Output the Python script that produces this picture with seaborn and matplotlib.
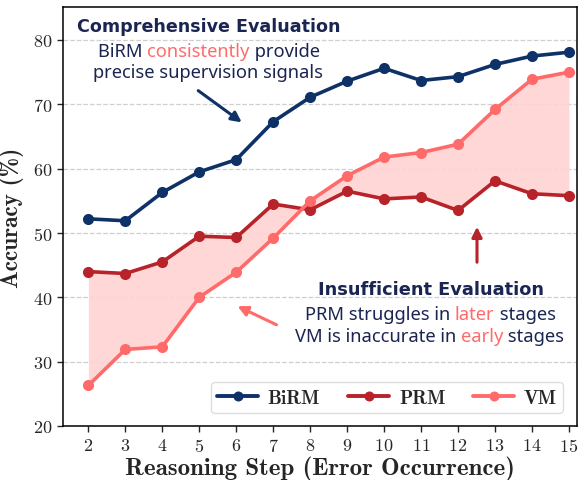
import numpy as np
import pandas as pd
import seaborn as sns
import matplotlib.pyplot as plt

# ── Data ──────────────────────────────────────────────────────
steps = list(range(2, 16))
birm = [52.2, 51.9, 56.3, 59.5, 61.4, 67.3, 71.1, 73.6, 75.6, 73.7, 74.3, 76.2, 77.5, 78.1]
prm = [44.0, 43.7, 45.5, 49.5, 49.3, 54.5, 53.6, 56.5, 55.3, 55.6, 53.5, 58.1, 56.1, 55.8]
vm = [26.3, 31.9, 32.3, 40.0, 43.9, 49.2, 55.0, 58.9, 61.8, 62.5, 63.8, 69.2, 73.9, 75.0]
models = ["BiRM", "PRM", "VM"]
colors = {"BiRM": "#0e3168", "PRM": "#b8232a", "VM": "#ff6b6b"}
navy = "#1b2552"

df = pd.DataFrame({
    "step": steps * 3,
    "acc": birm + prm + vm,
    "model": ["BiRM"] * 14 + ["PRM"] * 14 + ["VM"] * 14,
})

sns.set_style("ticks")
plt.rcParams["font.family"] = ["cmr10", "DejaVu Serif"]
plt.rcParams["axes.formatter.use_mathtext"] = True

fig, ax = plt.subplots(figsize=(5.8, 4.81), dpi=100)
fig.subplots_adjust(left=0.109, right=0.995, top=0.983, bottom=0.1123)

ax.fill_between(steps, prm, vm, color="#ffd3d3", alpha=0.9, lw=0, zorder=1)
sns.lineplot(data=df, x="step", y="acc", hue="model", hue_order=models,
             palette=colors, marker="o", markersize=8, markeredgewidth=0,
             linewidth=2.6, ax=ax, zorder=3)

ax.set_xlim(1.32, 15.22)
ax.set_ylim(20, 85.1)
ax.set_xticks(steps)
ax.set_yticks(range(20, 81, 10))
ax.tick_params(labelsize=13, length=4, width=1, pad=4)
ax.yaxis.grid(True, linestyle="--", color="#cfcfcf", linewidth=0.9)
ax.set_axisbelow(True)
for sp in ax.spines.values():
    sp.set_color("black")
    sp.set_linewidth(1.1)

ax.set_xlabel("Reasoning Step (Error Occurrence)", fontsize=17.9,
              fontfamily="cmb10", labelpad=1)
ax.set_ylabel("Accuracy (%)", fontsize=16.8, fontfamily="cmb10", labelpad=6)

leg = ax.legend(loc="lower right", ncol=3, frameon=True,
                handlelength=2.1, handletextpad=0.5, columnspacing=1.45,
                borderpad=0.32, markerscale=0.9,
                bbox_to_anchor=(0.992, 0.008), prop={"family": "cmb10", "size": 14})
leg.get_frame().set_edgecolor("#d5d5d5")
for line in leg.get_lines():
    line.set_linewidth(2.8)


# ── multi-colour annotation text ──────────────────────────────
def chunk_line(x, y, parts, size=13.2):
    prev = None
    for txt, col in parts:
        if prev is None:
            prev = fig.text(x, y, txt, color=col, fontsize=size,
                            fontfamily="Noto Sans", va="baseline", ha="left")
        else:
            prev = ax.annotate(txt, xy=(1, 0), xycoords=prev, color=col,
                               fontsize=size, fontfamily="Noto Sans",
                               va="bottom", ha="left")
    return prev


W, H = 580, 481
fig.text(77 / W, 1 - 32 / H, "Comprehensive Evaluation", color=navy,
         fontsize=12.6, fontweight="bold", fontfamily="DejaVu Sans")
chunk_line(98 / W, 1 - 57 / H, [("BiRM ", navy), ("consistently", "#ff6b6b"),
                                (" provide", navy)])
chunk_line(93 / W, 1 - 78 / H, [("precise supervision signals", navy)])

fig.text(431 / W, 1 - 295 / H, "Insufficient Evaluation", color=navy,
         fontsize=12.8, fontweight="bold", fontfamily="DejaVu Sans", ha="center")
chunk_line(305 / W, 1 - 320 / H, [("PRM struggles in ", navy), ("later", "#ff6b6b"),
                                  (" stages", navy)])
chunk_line(295 / W, 1 - 342 / H, [("VM is inaccurate in ", navy), ("early", "#ff6b6b"),
                                  (" stages", navy)])

arrow = dict(arrowstyle="-|>", lw=2.2, mutation_scale=15)
ax.annotate("", xy=(244 / W, 1 - 125 / H), xytext=(196 / W, 1 - 90 / H),
            xycoords="figure fraction",
            arrowprops=dict(arrow, color=colors["BiRM"]))
ax.annotate("", xy=(477 / W, 1 - 225 / H), xytext=(477 / W, 1 - 266 / H),
            xycoords="figure fraction",
            arrowprops=dict(arrow, color=colors["PRM"]))
ax.annotate("", xy=(235 / W, 1 - 306 / H), xytext=(279 / W, 1 - 327 / H),
            xycoords="figure fraction",
            arrowprops=dict(arrow, color=colors["VM"]))

plt.savefig("out.png", dpi=100)
